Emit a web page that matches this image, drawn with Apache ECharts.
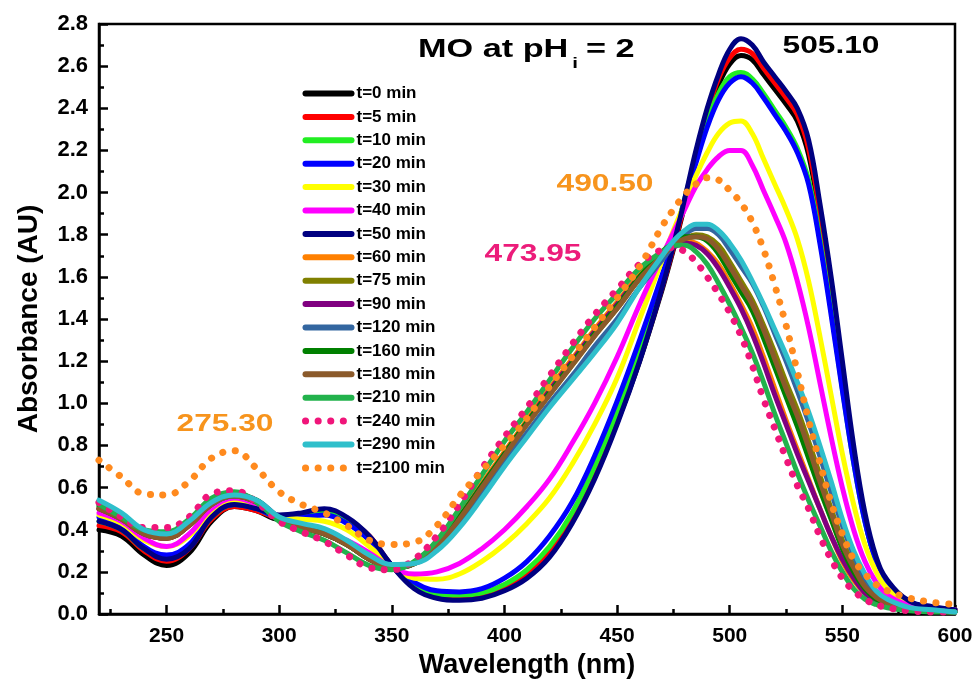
<!DOCTYPE html>
<html><head><meta charset="utf-8">
<script src="https://cdn.jsdelivr.net/npm/echarts@6/dist/echarts.min.js"></script>
<style>html,body{margin:0;padding:0;background:#fff}#c{width:979px;height:690px}</style>
</head><body><div id="c"></div>
<script>
// Wavelength grid (nm)
const wavelengths = [220,230,240,250,260,270,280,290,300,310,320,330,340,350,360,
  370,380,390,400,410,420,430,440,450,460,
  470,475,480,485,490,495,500,505,510,515,520,525,530,535,540,545,550,555,560,565,570,
  580,590,600];

const seriesNames = ['t=0 min','t=5 min','t=10 min','t=20 min','t=30 min','t=40 min','t=50 min','t=60 min','t=75 min','t=90 min','t=120 min','t=160 min','t=180 min','t=210 min','t=240 min','t=290 min','t=2100 min'];
const seriesColors = ['#000000','#ff0000','#22ee22','#0000ff','#ffff00','#ff00ff','#000080','#ff8000','#808000','#800080','#3366a0','#008000','#8b5a2b','#22b24c','#f0157a','#2fbfcb','#ff8a1e'];
const dottedSeries = ['t=240 min','t=2100 min'];

const abs_t0 = [0.40,0.37,0.28,0.23,0.29,0.44,0.51,0.49,0.45,0.46,0.48,0.44,0.36,0.23,0.13,
  0.085,0.075,0.085,0.12,0.18,0.28,0.44,0.65,0.91,1.20,
  1.54,1.73,1.94,2.16,2.36,2.51,2.61,2.65,2.63,2.56,2.49,2.42,2.34,2.18,1.88,1.52,1.13,0.75,0.45,0.25,0.15,
  0.055,0.03,0.02];
const abs_t5 = [0.42,0.39,0.30,0.25,0.31,0.45,0.51,0.49,0.46,0.47,0.49,0.45,0.37,0.23,0.13,
  0.09,0.08,0.09,0.13,0.19,0.29,0.45,0.66,0.92,1.21,
  1.55,1.74,1.95,2.18,2.38,2.54,2.64,2.68,2.66,2.59,2.52,2.45,2.37,2.21,1.91,1.55,1.16,0.77,0.46,0.26,0.15,
  0.055,0.03,0.02];
const abs_t10 = [0.44,0.40,0.31,0.27,0.32,0.46,0.52,0.50,0.46,0.46,0.48,0.44,0.36,0.23,0.14,
  0.095,0.09,0.10,0.14,0.21,0.32,0.48,0.70,0.96,1.26,
  1.59,1.77,1.97,2.17,2.34,2.47,2.55,2.57,2.54,2.47,2.39,2.31,2.21,2.06,1.78,1.44,1.07,0.72,0.44,0.25,0.15,
  0.055,0.03,0.02];
const abs_t20 = [0.46,0.42,0.32,0.28,0.33,0.47,0.52,0.50,0.46,0.46,0.47,0.43,0.35,0.23,0.15,
  0.11,0.105,0.12,0.17,0.25,0.37,0.53,0.75,1.01,1.30,
  1.61,1.78,1.96,2.14,2.31,2.44,2.52,2.55,2.52,2.45,2.37,2.29,2.19,2.04,1.76,1.42,1.06,0.72,0.44,0.25,0.15,
  0.055,0.03,0.02];
const abs_t30 = [0.47,0.43,0.35,0.32,0.37,0.49,0.54,0.51,0.46,0.45,0.44,0.40,0.32,0.23,0.17,
  0.165,0.19,0.25,0.33,0.43,0.55,0.71,0.90,1.12,1.40,
  1.68,1.82,1.95,2.08,2.19,2.28,2.33,2.34,2.28,2.16,2.04,1.92,1.78,1.58,1.32,1.04,0.76,0.52,0.33,0.20,0.12,
  0.05,0.03,0.02];
const abs_t40 = [0.48,0.44,0.36,0.32,0.38,0.50,0.55,0.52,0.46,0.41,0.39,0.35,0.29,0.22,0.19,
  0.20,0.24,0.31,0.40,0.51,0.64,0.81,1.00,1.22,1.47,
  1.70,1.81,1.92,2.03,2.11,2.17,2.20,2.20,2.13,2.01,1.89,1.76,1.58,1.36,1.10,0.84,0.60,0.40,0.25,0.15,0.09,
  0.04,0.025,0.02];
const abs_t50 = [0.44,0.40,0.31,0.26,0.31,0.46,0.52,0.50,0.47,0.48,0.50,0.46,0.37,0.23,0.12,
  0.075,0.065,0.075,0.11,0.17,0.27,0.43,0.64,0.90,1.20,
  1.55,1.75,1.97,2.20,2.40,2.56,2.68,2.73,2.70,2.62,2.55,2.48,2.40,2.25,1.95,1.60,1.20,0.80,0.48,0.27,0.16,
  0.06,0.035,0.02];
const abs_t60 = [0.50,0.45,0.38,0.36,0.42,0.52,0.56,0.53,0.45,0.41,0.38,0.33,0.26,0.22,0.24,
  0.33,0.47,0.62,0.77,0.92,1.07,1.21,1.35,1.48,1.61,
  1.71,1.75,1.77,1.76,1.72,1.66,1.57,1.47,1.36,1.22,1.07,0.92,0.78,0.64,0.50,0.37,0.25,0.16,0.10,0.06,0.04,
  0.02,0.015,0.01];
const abs_t75 = [0.50,0.45,0.38,0.36,0.42,0.52,0.56,0.53,0.45,0.41,0.38,0.33,0.26,0.22,0.24,
  0.32,0.45,0.60,0.75,0.90,1.04,1.18,1.32,1.45,1.59,
  1.70,1.75,1.78,1.80,1.79,1.75,1.67,1.58,1.49,1.37,1.24,1.10,0.97,0.82,0.66,0.50,0.35,0.23,0.14,0.08,0.05,
  0.02,0.015,0.01];
const abs_t90 = [0.50,0.45,0.38,0.36,0.42,0.52,0.56,0.53,0.45,0.41,0.38,0.33,0.26,0.22,0.24,
  0.33,0.46,0.61,0.76,0.91,1.06,1.20,1.34,1.47,1.60,
  1.70,1.74,1.76,1.75,1.71,1.64,1.55,1.45,1.33,1.19,1.04,0.90,0.76,0.63,0.50,0.37,0.26,0.17,0.10,0.06,0.04,
  0.02,0.015,0.01];
const abs_t120 = [0.52,0.46,0.39,0.37,0.43,0.52,0.56,0.54,0.46,0.42,0.40,0.34,0.27,0.23,0.24,
  0.31,0.43,0.57,0.72,0.86,1.00,1.13,1.27,1.40,1.55,
  1.68,1.75,1.80,1.83,1.83,1.80,1.73,1.65,1.57,1.46,1.33,1.20,1.06,0.91,0.75,0.58,0.42,0.28,0.17,0.10,0.06,
  0.025,0.015,0.01];
const abs_t160 = [0.51,0.46,0.39,0.37,0.43,0.53,0.57,0.54,0.45,0.41,0.38,0.33,0.26,0.22,0.24,
  0.33,0.46,0.61,0.76,0.91,1.05,1.19,1.33,1.46,1.60,
  1.72,1.76,1.79,1.79,1.77,1.71,1.62,1.53,1.44,1.31,1.17,1.03,0.89,0.74,0.59,0.45,0.31,0.20,0.12,0.07,0.045,
  0.02,0.015,0.01];
const abs_t180 = [0.50,0.45,0.38,0.36,0.42,0.52,0.56,0.53,0.45,0.41,0.38,0.33,0.26,0.22,0.24,
  0.32,0.45,0.60,0.75,0.90,1.04,1.18,1.32,1.45,1.59,
  1.70,1.75,1.78,1.79,1.78,1.73,1.65,1.56,1.47,1.35,1.21,1.07,0.94,0.79,0.63,0.48,0.33,0.22,0.13,0.08,0.05,
  0.02,0.015,0.01];
const abs_t210 = [0.52,0.46,0.40,0.39,0.45,0.55,0.58,0.53,0.44,0.39,0.35,0.29,0.23,0.21,0.25,
  0.35,0.50,0.66,0.82,0.96,1.11,1.26,1.40,1.52,1.64,
  1.72,1.75,1.75,1.72,1.66,1.57,1.47,1.36,1.24,1.10,0.95,0.81,0.67,0.54,0.42,0.30,0.20,0.12,0.07,0.045,0.03,
  0.015,0.01,0.01];
const abs_t240 = [0.53,0.46,0.41,0.41,0.46,0.57,0.585,0.53,0.44,0.39,0.345,0.28,0.22,0.21,0.26,
  0.37,0.52,0.69,0.84,0.98,1.13,1.28,1.42,1.54,1.66,
  1.73,1.74,1.72,1.67,1.60,1.52,1.43,1.32,1.18,1.02,0.88,0.74,0.61,0.50,0.37,0.26,0.17,0.11,0.07,0.045,0.03,
  0.015,0.01,0.01];
const abs_t290 = [0.54,0.48,0.40,0.38,0.44,0.53,0.565,0.54,0.46,0.43,0.405,0.35,0.28,0.235,0.24,
  0.30,0.41,0.55,0.70,0.84,0.98,1.11,1.24,1.38,1.55,
  1.70,1.77,1.82,1.85,1.85,1.82,1.76,1.68,1.58,1.47,1.35,1.23,1.10,0.96,0.80,0.63,0.45,0.30,0.19,0.11,0.07,
  0.03,0.02,0.01];
const abs_t2100 = [0.73,0.65,0.57,0.565,0.63,0.74,0.775,0.69,0.58,0.52,0.48,0.42,0.35,0.33,0.34,
  0.42,0.56,0.68,0.80,0.93,1.08,1.22,1.36,1.50,1.65,
  1.84,1.92,1.99,2.04,2.07,2.06,2.01,1.95,1.86,1.73,1.56,1.37,1.15,0.92,0.72,0.53,0.38,0.26,0.19,0.14,0.11,
  0.075,0.055,0.045];

const absorbance = [abs_t0,abs_t5,abs_t10,abs_t20,abs_t30,abs_t40,abs_t50,abs_t60,abs_t75,abs_t90,abs_t120,abs_t160,abs_t180,abs_t210,abs_t240,abs_t290,abs_t2100];

const xLabelValues = [250,300,350,400,450,500,550,600];
const xMinorValues = [225,275,325,375,425,475,525,575];

const FONT = '"Liberation Sans", Arial, Helvetica, sans-serif';

function lineStyleFor(name, k) {
  const dotted = dottedSeries.indexOf(name) >= 0;
  return dotted
    ? { color: seriesColors[k], width: 7, type: [0.1, 12.5], cap: 'round', opacity: 1 }
    : { color: seriesColors[k], width: 5, type: 'solid', cap: 'round', opacity: 1 };
}

const series = seriesNames.map((name, k) => ({
  type: 'line',
  name: name,
  xAxisIndex: 0,
  yAxisIndex: 0,
  data: wavelengths.map((w, i) => [w, absorbance[k][i]]),
  symbol: 'none',
  smooth: 0.4,
  animation: false,
  lineStyle: lineStyleFor(name, k),
  itemStyle: { color: seriesColors[k] },
  z: 2 + k
}));

const legendData = seriesNames.map((name, k) => {
  const ls = lineStyleFor(name, k);
  return {
    name: name,
    itemStyle: { color: 'rgba(0,0,0,0)', borderColor: 'rgba(0,0,0,0)', borderWidth: 0, opacity: 0 },
    lineStyle: { color: ls.color, width: ls.type === 'solid' ? 6 : 7, type: ls.type, cap: 'round', opacity: 1 }
  };
});

const chart = echarts.init(document.getElementById('c'), null, { renderer: 'canvas' });
const option = {
  backgroundColor: '#ffffff',
  animation: false,
  textStyle: { fontFamily: FONT },
  grid: { left: 99, right: 24, top: 24, bottom: 76, show: true, borderColor: '#000', borderWidth: 2.5, containLabel: false },
  legend: {
    orient: 'vertical',
    left: 302,
    top: 85,
    itemWidth: 46,
    itemHeight: 14,
    itemGap: 6.4,
    padding: 0,
    textStyle: { fontFamily: FONT, fontWeight: 'bold', fontSize: 17, color: '#000' },
    data: legendData
  },
  xAxis: [{
    type: 'value',
    min: 220, max: 600,
    position: 'bottom',
    name: 'Wavelength (nm)',
    nameLocation: 'middle',
    nameGap: 38,
    nameTextStyle: { fontFamily: FONT, fontWeight: 'bold', fontSize: 27, color: '#000' },
    axisLine: { show: true, onZero: false, lineStyle: { color: '#000', width: 2.5 } },
    axisTick: { show: true, inside: true, length: 9, lineStyle: { color: '#000', width: 2.5 }, customValues: xLabelValues },
    axisLabel: { show: true, customValues: xLabelValues, margin: 12, fontFamily: FONT, fontWeight: 'bold', fontSize: 21, color: '#000' },
    splitLine: { show: false }
  }, {
    type: 'value',
    min: 220, max: 600,
    position: 'top',
    offset: -590,
    axisLine: { show: false },
    axisTick: { show: true, inside: false, length: 5, lineStyle: { color: '#000', width: 2.5 }, customValues: xMinorValues },
    axisLabel: { show: false },
    splitLine: { show: false }
  }],
  yAxis: {
    type: 'value',
    min: 0, max: 2.8, interval: 0.2,
    name: 'Absorbance (AU)',
    nameLocation: 'middle',
    nameGap: 56,
    nameTextStyle: { fontFamily: FONT, fontWeight: 'bold', fontSize: 28, color: '#000' },
    axisLine: { show: true, onZero: false, lineStyle: { color: '#000', width: 2.5 } },
    axisTick: { show: true, inside: true, length: 9, lineStyle: { color: '#000', width: 2.5 } },
    minorTick: { show: true, splitNumber: 2, length: 5, lineStyle: { color: '#000', width: 2.5 } },
    axisLabel: { margin: 11, fontFamily: FONT, fontWeight: 'bold', fontSize: 22, color: '#000', formatter: v => v.toFixed(1) },
    splitLine: { show: false }
  },
  graphic: [
    { type: 'text', x: 418, y: 50, scaleX: 1.37, style: { text: 'MO at pH', font: 'bold 25px ' + FONT, fill: '#000', align: 'left', verticalAlign: 'middle' } },
    { type: 'text', x: 575, y: 64, scaleX: 1.37, style: { text: 'i', font: 'bold 15px ' + FONT, fill: '#000', align: 'center', verticalAlign: 'middle' } },
    { type: 'text', x: 586, y: 50, scaleX: 1.37, style: { text: '= 2', font: 'bold 25px ' + FONT, fill: '#000', align: 'left', verticalAlign: 'middle' } },
    { type: 'text', x: 831, y: 47, scaleX: 1.35, style: { text: '505.10', font: 'bold 23.5px ' + FONT, fill: '#000', align: 'center', verticalAlign: 'middle' } },
    { type: 'text', x: 605, y: 185, scaleX: 1.35, style: { text: '490.50', font: 'bold 23.5px ' + FONT, fill: '#f7941d', align: 'center', verticalAlign: 'middle' } },
    { type: 'text', x: 533, y: 255, scaleX: 1.35, style: { text: '473.95', font: 'bold 23.5px ' + FONT, fill: '#ec1c7a', align: 'center', verticalAlign: 'middle' } },
    { type: 'text', x: 225, y: 425, scaleX: 1.35, style: { text: '275.30', font: 'bold 23.5px ' + FONT, fill: '#f7941d', align: 'center', verticalAlign: 'middle' } }
  ],
  series: series
};
chart.setOption(option);
</script>
</body></html>
